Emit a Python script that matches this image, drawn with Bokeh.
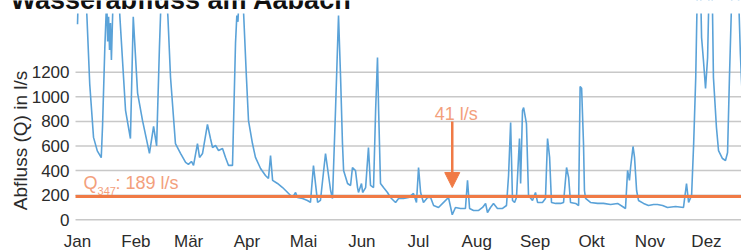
import math
from bokeh.plotting import figure
from bokeh.models import Label, Arrow, NormalHead, Range1d, BoxAnnotation
from bokeh.core.properties import value
from bokeh.embed import file_html
from bokeh.resources import INLINE

# ---- data (day of year, discharge l/s) ----
DAYS = [0, 1, 3, 5, 6.5, 8.5, 10.5, 12.6, 13.3, 14.5, 15.5, 16, 16.5, 17, 17.5, 18, 18.8,
        20.5, 22.5, 25.5, 28.1, 29.6, 31.9, 34.5, 38.2, 40.4, 42, 43.5, 45.5, 48, 49.4,
        52, 54.7, 57.4, 58.9, 60.5, 61.6, 63.7, 64.8, 66.4, 69, 70.6, 71.7, 73.3, 74.9,
        77, 78.6, 80.2, 82.3, 83.9, 84.6, 85.2, 86.5, 88.2, 89.7, 90.8, 92.9, 94.5, 97.2,
        99.8, 101.4, 102.5, 103.6, 106.2, 108.9, 110.5, 112.1, 114.2, 115.8, 116.8, 119.5,
        122.1, 123.7, 125.3, 127.5, 129, 131.7, 134.4, 135.4, 137, 138.6, 139.7, 140.7,
        141.3, 143.4, 145, 146, 147.6, 148.7, 149.2, 150.8, 151.4, 153, 154.5, 155.6,
        157.2, 158.3, 159.3, 159.9, 160.9, 162.5, 164.6, 166.2, 167.8, 168.9, 170.5,
        173.1, 175.8, 178.4, 180, 181.1, 182.2, 183.7, 185.9, 187.5, 189.1, 191.7, 194.4,
        197, 199, 200.7, 203.4, 206, 207.1, 208.2, 210.3, 213, 215.1, 216.7, 217.7, 219.3,
        220.9, 223, 225.7, 227.8, 228.9, 230, 231, 232.1, 233.1, 234.7, 235.3, 236.3,
        236.9, 238.4, 239.5, 241.6, 243.2, 244.3, 246.9, 248.5, 249.6, 250.7, 251.7,
        253.9, 256.5, 258.1, 259.7, 260.8, 261.8, 264.5, 266.1, 266.9, 267.7, 268.7,
        269.2, 269.8, 272.4, 276.2, 279.3, 283.1, 286.8, 289.4, 291, 292.1, 293.1, 293.7,
        295, 295.8, 296.9, 297.9, 300.6, 303.2, 305.9, 308, 310.7, 313.3, 317.6, 321.8,
        323.4, 324.5, 326.1, 327.2, 328.3, 329, 330.2, 331.4, 332.4, 333.5, 334.6, 335.2,
        336.3, 337.2, 337.7, 339.3, 340.4, 342.5, 344.1, 345.2, 346.2, 347.3, 349, 351.2,
        352, 353]
FLOW = [1590, 2200, 2300, 1650, 1100, 670, 560, 505, 766, 1400, 1800, 1450, 1650, 1380, 1600, 1300, 1750,
        2300, 1650, 890, 660, 1650, 1030, 808, 540, 760, 600, 1400, 2300, 1650, 1157,
        620, 540, 466, 450, 474, 442, 620, 507, 539, 775, 661, 588, 604, 563,
        580, 507, 442, 442, 1435, 1660, 1610, 2100, 1680, 1157, 807, 620, 507, 417,
        360, 336, 523, 320, 295, 262, 238, 214, 181, 222, 181, 173,
        157, 141, 441, 141, 157, 539, 238, 173, 889, 1661, 1157, 620,
        401, 295, 279, 425, 401, 262, 222, 295, 222, 262, 588, 279,
        262, 889, 1320, 889, 295, 262, 222, 181, 157, 141, 173,
        173, 181, 214, 141, 425, 222, 141, 181, 181, 116, 100, 141,
        181, 41, 100, 92, 92, 320, 92, 76, 76, 100, 133, 59, 100,
        133, 92, 92, 116, 360, 791, 157, 141, 181, 661, 295, 889,
        912, 782, 198, 157, 222, 141, 141, 173, 661, 507, 141,
        133, 133, 141, 425, 344, 141, 133, 116, 1084, 1070, 620,
        238, 173, 141, 133, 133, 124, 133, 108, 92, 401, 320, 425,
        596, 507, 238, 157, 133, 116, 124, 124, 116, 100, 108, 100,
        295, 141, 198, 620, 1157, 1750, 2400, 1482, 1295, 1067, 1319, 1750,
        2200, 1700, 1157, 750, 563, 498, 482, 547, 1157, 1750, 2300, 1750,
        1350, 1000]

MONTHS = ["Jan", "Feb", "Mär", "Apr", "Mai", "Jun", "Jul", "Aug", "Sep", "Okt", "Nov", "Dez"]
MONTH_START = [0, 31, 59, 90, 120, 151, 181, 212, 243, 273, 304, 334]
Y_TICKS = [0, 200, 400, 600, 800, 1000, 1200]
Y_TICK_LABELS = [str(t) for t in Y_TICKS]
Q347 = 189
MIN_FLOW = min(FLOW)
MIN_DAY = DAYS[FLOW.index(MIN_FLOW)]

TITLE = "Wasserabfluss am Aabach"
Y_LABEL = "Abfluss (Q) in l/s"

FONT = "Liberation Sans"
BLUE = "#5aa2d8"
ORANGE = "#f07a45"
LIGHT_ORANGE = "#f3a07c"
TXT = "#2b2b2b"
GRID = "#c8c8c8"

# view window (day axis, l/s axis); the plot area proper starts at GRID_START / ends at PLOT_TOP
X0, X1 = -40.9, 352.6
Y0, Y1 = -258, 1783
GRID_START = -1.06
PLOT_TOP = 1677
MONTH_LABEL_Y = -180
TITLE_Y = 1787
YLABEL_X, YLABEL_Y = -30.3, 645

p = figure(width=741, height=251, output_backend="svg", toolbar_location=None,
           x_range=Range1d(X0, X1), y_range=Range1d(Y0, Y1),
           x_axis_location=None, y_axis_location=None,
           min_border_left=0, min_border_right=0, min_border_top=0, min_border_bottom=0)
p.outline_line_color = None
p.background_fill_color = "white"
p.border_fill_color = "white"
p.xgrid.visible = False
p.ygrid.visible = False

# horizontal grid lines at the y ticks
p.segment(x0=[GRID_START] * len(Y_TICKS), y0=Y_TICKS, x1=[X1] * len(Y_TICKS), y1=Y_TICKS,
          line_color=GRID, line_width=1.5)

# discharge
p.line(DAYS, FLOW, line_color=BLUE, line_width=1.6)

# white band above the plot area (data are cut off there, under the title)
p.add_layout(BoxAnnotation(bottom=PLOT_TOP, top=Y1 + 200, left=X0 - 10, right=X1 + 10,
                           fill_color="white", fill_alpha=1.0,
                           line_color=None, level="annotation"))

# Q347 line
p.segment(x0=[GRID_START], y0=[Q347], x1=[X1], y1=[Q347], line_color=ORANGE, line_width=3)

# y tick labels and axis title
p.text(x=[GRID_START] * len(Y_TICKS), y=Y_TICKS, text=Y_TICK_LABELS, x_offset=-6,
       text_font=value(FONT), text_font_size=value("17px"), text_color=TXT,
       text_align="right", text_baseline="middle")
p.add_layout(Label(x=YLABEL_X, y=YLABEL_Y, text=Y_LABEL, angle=math.pi / 2,
                   text_font=FONT, text_font_size="19px", text_color=TXT,
                   text_align="center", text_baseline="middle"))

# month names
p.text(x=MONTH_START, y=[MONTH_LABEL_Y] * len(MONTHS), text=MONTHS,
       text_font=value(FONT), text_font_size=value("17px"), text_color=TXT,
       text_align="center", text_baseline="middle")

# Q347 label
p.add_layout(Label(x=GRID_START, y=Q347, x_offset=8, y_offset=14, text="Q", text_font=FONT,
                   text_font_size="18px", text_color=LIGHT_ORANGE, text_baseline="middle"))
p.add_layout(Label(x=GRID_START, y=Q347, x_offset=22, y_offset=6, text="347", text_font=FONT,
                   text_font_size="11px", text_color=LIGHT_ORANGE, text_baseline="middle"))
p.add_layout(Label(x=GRID_START, y=Q347, x_offset=40, y_offset=14, text=f": {Q347} l/s",
                   text_font=FONT, text_font_size="18px", text_color=LIGHT_ORANGE,
                   text_baseline="middle"))

# minimum annotation
p.add_layout(Arrow(end=NormalHead(size=15, fill_color=ORANGE, line_color=ORANGE),
                   x_start=MIN_DAY, y_start=800, x_end=MIN_DAY, y_end=262,
                   line_color=ORANGE, line_width=2.5))
p.add_layout(Label(x=MIN_DAY, y=864, x_offset=4, text=f"{MIN_FLOW} l/s", text_font=FONT,
                   text_font_size="18px", text_color=LIGHT_ORANGE, text_align="center",
                   text_baseline="middle"))

# title (its upper part lies outside the picture, as in the original)
p.add_layout(Label(x=X0, y=TITLE_Y, x_offset=10, text=TITLE, text_font=FONT,
                   text_font_size="27px", text_font_style="bold", text_color="#111111",
                   text_baseline="middle"))

open("out.html", "w").write(file_html(p, INLINE))
